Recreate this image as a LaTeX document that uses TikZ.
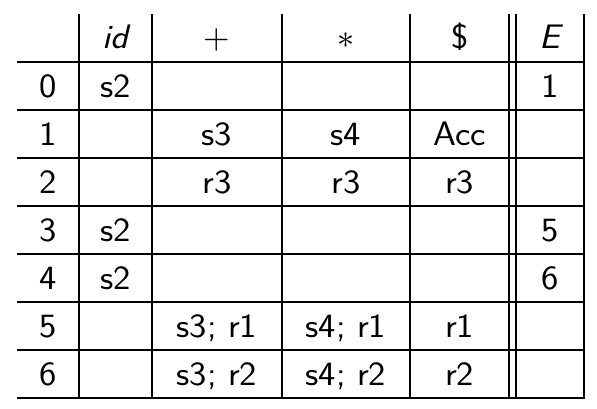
\documentclass[tikz,border=0pt]{standalone}
\usepackage{fontspec}
\usepackage{unicode-math}
\setmathfont{Latin Modern Math}
\setsansfont{Latin Modern Sans}[FakeStretch=1.08]
\begin{document}
\begin{tikzpicture}[x=1pt,y=-1pt,
  cell/.style={font=\fontsize{34}{40}\selectfont\sffamily, inner sep=0pt, anchor=base},
  rule/.style={line width=1.8pt, black, line cap=rect}]
\useasboundingbox (0,0) rectangle (597,408);
% grid
\foreach \y in {62.3,110.3,158.3,206.3,254.3,302.3,350.3,398.3}
  \draw[rule] (18,\y) -- (584.3,\y);
\foreach \x in {79,152.3,281.7,410.3,509,515.7,584.3}
  \draw[rule] (\x,15) -- (\x,398.3);
% header
\node[cell] (hid) at (115.7,48.5) {\itshape id};
\node[cell] (hplus) at (217,48.5) {$+$};
\node[cell] (hstar) at (346,48.5) {$*$};
\node[cell] (hdollar) at (459.7,48.5) {\$};
\node[cell] (hE) at (550,48.5) {\itshape E};
% rows: state labels
\foreach \i in {0,...,6}
  \node[cell] (s\i) at (48.5,97+48*\i) {\i};
% entries
\node[cell] (r0id) at (115.7,97) {s2};
\node[cell] (r0E) at (550,97) {1};
\node[cell] (r1p) at (217,145) {s3};
\node[cell] (r1s) at (346,145) {s4};
\node[cell] (r1d) at (459.7,145) {Acc};
\node[cell] (r2p) at (217,193) {r3};
\node[cell] (r2s) at (346,193) {r3};
\node[cell] (r2d) at (459.7,193) {r3};
\node[cell] (r3id) at (115.7,241) {s2};
\node[cell] (r3E) at (550,241) {5};
\node[cell] (r4id) at (115.7,289) {s2};
\node[cell] (r4E) at (550,289) {6};
\node[cell] (r5p) at (217,337) {s3; r1};
\node[cell] (r5s) at (346,337) {s4; r1};
\node[cell] (r5d) at (459.7,337) {r1};
\node[cell] (r6p) at (217,385) {s3; r2};
\node[cell] (r6s) at (346,385) {s4; r2};
\node[cell] (r6d) at (459.7,385) {r2};
\end{tikzpicture}
\end{document}
